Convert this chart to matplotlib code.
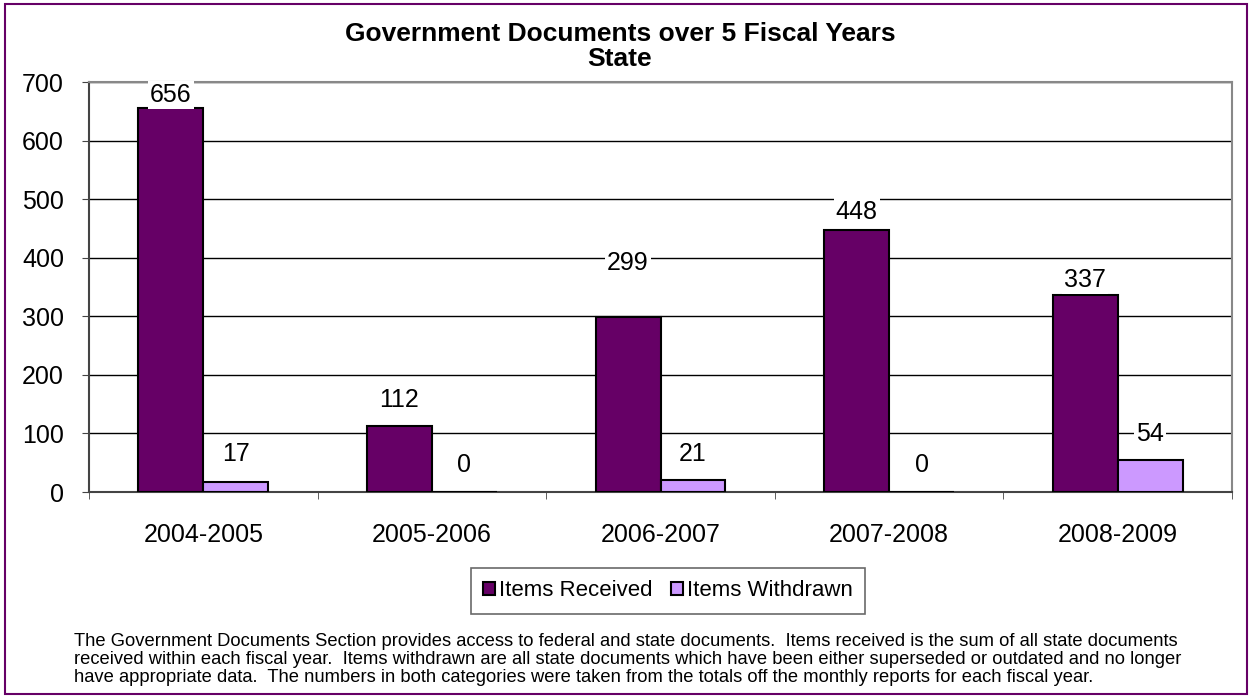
import numpy as np
import matplotlib.pyplot as plt
from matplotlib.patches import Rectangle

years = ['2004-2005', '2005-2006', '2006-2007', '2007-2008', '2008-2009']
received = [656, 112, 299, 448, 337]
withdrawn = [17, 0, 21, 0, 54]

# label gaps above bar tops, in pixels (as placed in the original)
gap_received = [13, 26, 54, 18, 15]
gap_withdrawn = [28, 27, 26, 27, 26]

plt.rcParams['font.family'] = ['Liberation Sans', 'DejaVu Sans']

fig = plt.figure(figsize=(12.52, 6.98), dpi=100)
fig.patches.append(Rectangle((0.004, 0.006), 0.992, 0.988, transform=fig.transFigure,
                             fill=False, ec='#660066', lw=1.5))

ax = fig.add_axes([89 / 1252, 1 - 492 / 698, (1232 - 89) / 1252, (492 - 82) / 698])
x = np.arange(len(years))
w = 0.284
b1 = ax.bar(x - w / 2, received, w, color='#660066', ec='black', lw=1.5, zorder=3,
            label='Items Received')
b2 = ax.bar(x + w / 2, withdrawn, w, color='#CC99FF', ec='black', lw=1.5, zorder=3,
            label='Items Withdrawn')

for bars, vals, gaps in ((b1, received, gap_received), (b2, withdrawn, gap_withdrawn)):
    for r, v, g in zip(bars, vals, gaps):
        ax.annotate(str(v), (r.get_x() + r.get_width() / 2, v), xytext=(0, g),
                    textcoords='offset pixels', ha='center', va='center',
                    fontsize=18, zorder=4,
                    bbox=dict(fc='white', ec='none', pad=1.5))

ax.set_xlim(-0.5, len(years) - 0.5)
ax.set_ylim(0, 700)
ax.set_yticks(range(0, 701, 100))
ax.set_xticks(x)
ax.set_xticklabels(years)
ax.set_xticks(np.arange(-0.5, len(years)), minor=True)
ax.tick_params(axis='x', which='major', length=0, pad=22, labelsize=18)
ax.tick_params(axis='x', which='minor', length=5, color='#444444')
ax.tick_params(axis='y', length=5, labelsize=18, color='#444444', pad=13)
ax.yaxis.grid(True, color='black', lw=1, zorder=0)
ax.set_axisbelow(True)
for s in ('top', 'right'):
    ax.spines[s].set_color('#888888')
for s in ('left', 'bottom'):
    ax.spines[s].set_color('#444444')
for s in ax.spines.values():
    s.set_linewidth(1.5)

leg = fig.legend(loc='center', bbox_to_anchor=(668 / 1252, 1 - 591 / 698), ncol=2,
                 fontsize=16, frameon=True, fancybox=False, edgecolor='#444444',
                 handlelength=0.55, handleheight=0.55, handletextpad=0.2,
                 columnspacing=0.8, borderpad=0.55)
leg.get_frame().set_linewidth(1.2)

fig.text(620 / 1252, 1 - 34 / 698, 'Government Documents over 5 Fiscal Years',
         ha='center', va='center', fontsize=19, fontweight='bold')
fig.text(620 / 1252, 1 - 59 / 698, 'State', ha='center', va='center',
         fontsize=19, fontweight='bold')

note = ["The Government Documents Section provides access to federal and state documents.  "
        "Items received is the sum of all state documents",
        "received within each fiscal year.  Items withdrawn are all state documents which have "
        "been either superseded or outdated and no longer",
        "have appropriate data.  The numbers in both categories were taken from the totals off "
        "the monthly reports for each fiscal year."]
for i, line in enumerate(note):
    fig.text(74 / 1252, 1 - (641 + 18 * i) / 698, line, ha='left', va='center',
             fontsize=13.2)

fig.savefig('out.png', dpi=100)
